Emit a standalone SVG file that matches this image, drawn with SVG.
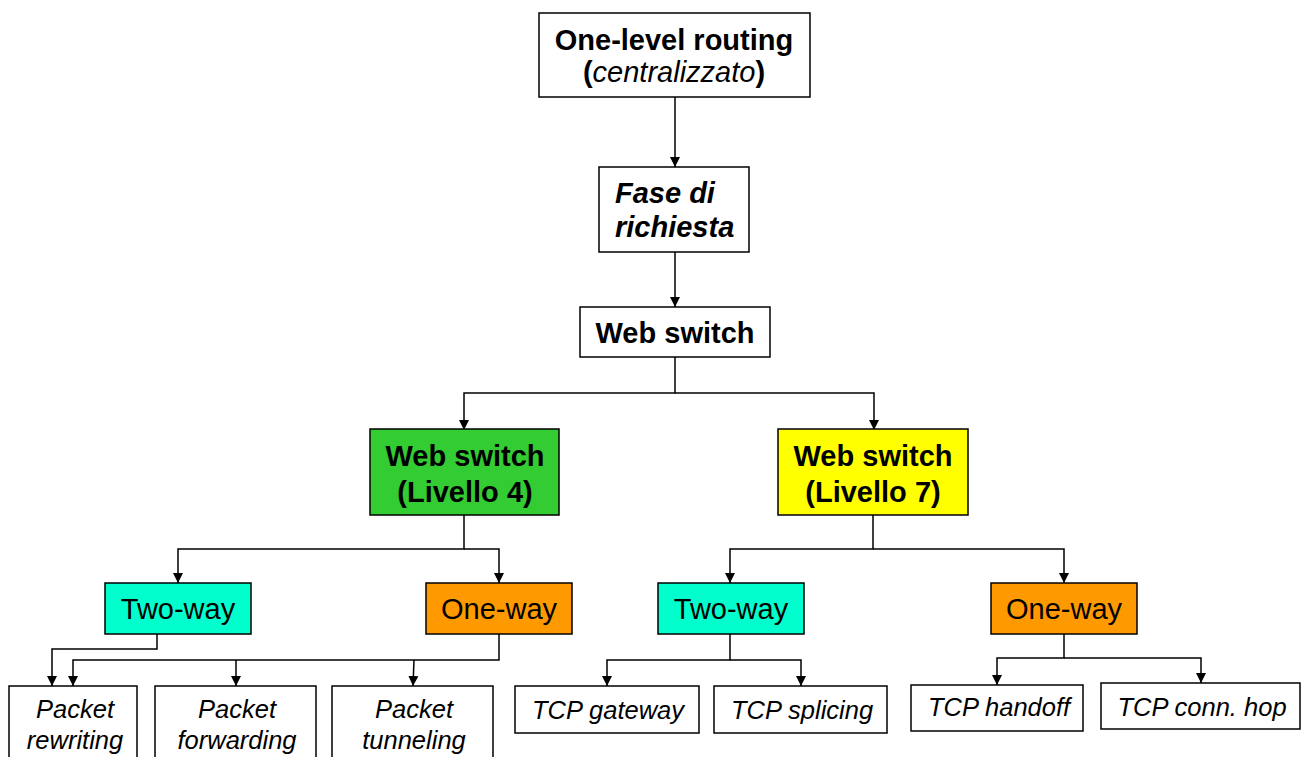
<svg xmlns="http://www.w3.org/2000/svg" width="1301" height="757" viewBox="0 0 1301 757">
<style>
  .box { stroke: #000; stroke-width: 1.5; }
  .w { fill: #fff; }
  .g { fill: #33CC33; }
  .y { fill: #FFFF00; }
  .c { fill: #00FFCC; }
  .o { fill: #FF9900; }
  text { font-family: "Liberation Sans", Arial, sans-serif; fill: #000; }
  .b { font-weight: bold; font-size: 29px; text-anchor: middle; }
  .r { font-size: 29px; text-anchor: middle; }
  .bi { font-weight: bold; font-style: italic; font-size: 29px; }
  .i { font-style: italic; font-size: 25.5px; text-anchor: middle; }
  .conn { fill: none; stroke: #000; stroke-width: 1.5; }
</style>
<defs>
  <marker id="arr" viewBox="0 0 10 10" refX="10" refY="5" markerWidth="10" markerHeight="11" markerUnits="userSpaceOnUse" orient="auto">
    <path d="M0,0 L10,5 L0,10 z" fill="#000"/>
  </marker>
</defs>
<rect width="1301" height="757" fill="#fff"/>

<g id="connectors">
  <path class="conn" d="M675,97 V167" marker-end="url(#arr)"/>
  <path class="conn" d="M675,252 V307" marker-end="url(#arr)"/>
  <path class="conn" d="M675,357 V393 H464 V430" marker-end="url(#arr)"/>
  <path class="conn" d="M675,393 H874 V430" marker-end="url(#arr)"/>
  <path class="conn" d="M464,515 V549 H178 V583" marker-end="url(#arr)"/>
  <path class="conn" d="M464,549 H499 V583" marker-end="url(#arr)"/>
  <path class="conn" d="M873,515 V549 H730 V583" marker-end="url(#arr)"/>
  <path class="conn" d="M873,549 H1064 V583" marker-end="url(#arr)"/>
  <path class="conn" d="M157,634 V649 H52 V686" marker-end="url(#arr)"/>
  <path class="conn" d="M499,634 V660 H73 V686" marker-end="url(#arr)"/>
  <path class="conn" d="M236,660 V686" marker-end="url(#arr)"/>
  <path class="conn" d="M414,660 L413,686" marker-end="url(#arr)"/>
  <path class="conn" d="M730,634 V660 H607 V686" marker-end="url(#arr)"/>
  <path class="conn" d="M730,660 H801 V686" marker-end="url(#arr)"/>
  <path class="conn" d="M1064,634 V658 H997 V685" marker-end="url(#arr)"/>
  <path class="conn" d="M1064,658 H1201 V683" marker-end="url(#arr)"/>
</g>

<g id="n-top">
  <rect class="box w" x="539" y="13" width="271" height="84"/>
  <text class="b" x="674" y="50">One-level routing</text>
  <text class="b" x="674" y="82">(<tspan font-weight="normal" font-style="italic">centralizzato</tspan>)</text>
</g>
<g id="n-fase">
  <rect class="box w" x="599" y="167" width="150" height="85"/>
  <text class="bi" x="615" y="203">Fase di</text>
  <text class="bi" x="615" y="237">richiesta</text>
</g>
<g id="n-ws">
  <rect class="box w" x="580" y="307" width="190" height="50"/>
  <text class="b" x="675" y="343">Web switch</text>
</g>
<g id="n-l4">
  <rect class="box g" x="370" y="429" width="189" height="86"/>
  <text class="b" x="465" y="466">Web switch</text>
  <text class="b" x="465" y="502">(Livello 4)</text>
</g>
<g id="n-l7">
  <rect class="box y" x="778" y="429" width="190" height="86"/>
  <text class="b" x="873" y="466">Web switch</text>
  <text class="b" x="873" y="502">(Livello 7)</text>
</g>
<g id="n-tw4">
  <rect class="box c" x="105" y="583" width="146" height="51"/>
  <text class="r" x="178" y="619">Two-way</text>
</g>
<g id="n-ow4">
  <rect class="box o" x="426" y="583" width="146" height="51"/>
  <text class="r" x="499" y="619">One-way</text>
</g>
<g id="n-tw7">
  <rect class="box c" x="658" y="583" width="146" height="51"/>
  <text class="r" x="731" y="619">Two-way</text>
</g>
<g id="n-ow7">
  <rect class="box o" x="991" y="583" width="146" height="51"/>
  <text class="r" x="1064" y="619">One-way</text>
</g>
<g id="n-prw">
  <rect class="box w" x="9" y="686" width="128" height="90"/>
  <text class="i" x="75" y="718">Packet</text>
  <text class="i" x="75" y="749">rewriting</text>
</g>
<g id="n-pfw">
  <rect class="box w" x="155" y="686" width="161" height="90"/>
  <text class="i" x="237" y="718">Packet</text>
  <text class="i" x="237" y="749">forwarding</text>
</g>
<g id="n-ptn">
  <rect class="box w" x="332" y="686" width="161" height="90"/>
  <text class="i" x="414" y="718">Packet</text>
  <text class="i" x="414" y="749">tunneling</text>
</g>
<g id="n-tgw">
  <rect class="box w" x="515" y="686" width="184" height="47"/>
  <text class="i" x="608" y="719">TCP gateway</text>
</g>
<g id="n-tsp">
  <rect class="box w" x="714" y="686" width="173" height="47"/>
  <text class="i" x="802" y="719">TCP splicing</text>
</g>
<g id="n-tho">
  <rect class="box w" x="911" y="685" width="172" height="46"/>
  <text class="i" x="999" y="716">TCP handoff</text>
</g>
<g id="n-tch">
  <rect class="box w" x="1101" y="683" width="199" height="46"/>
  <text class="i" x="1202" y="716">TCP conn. hop</text>
</g>
</svg>
